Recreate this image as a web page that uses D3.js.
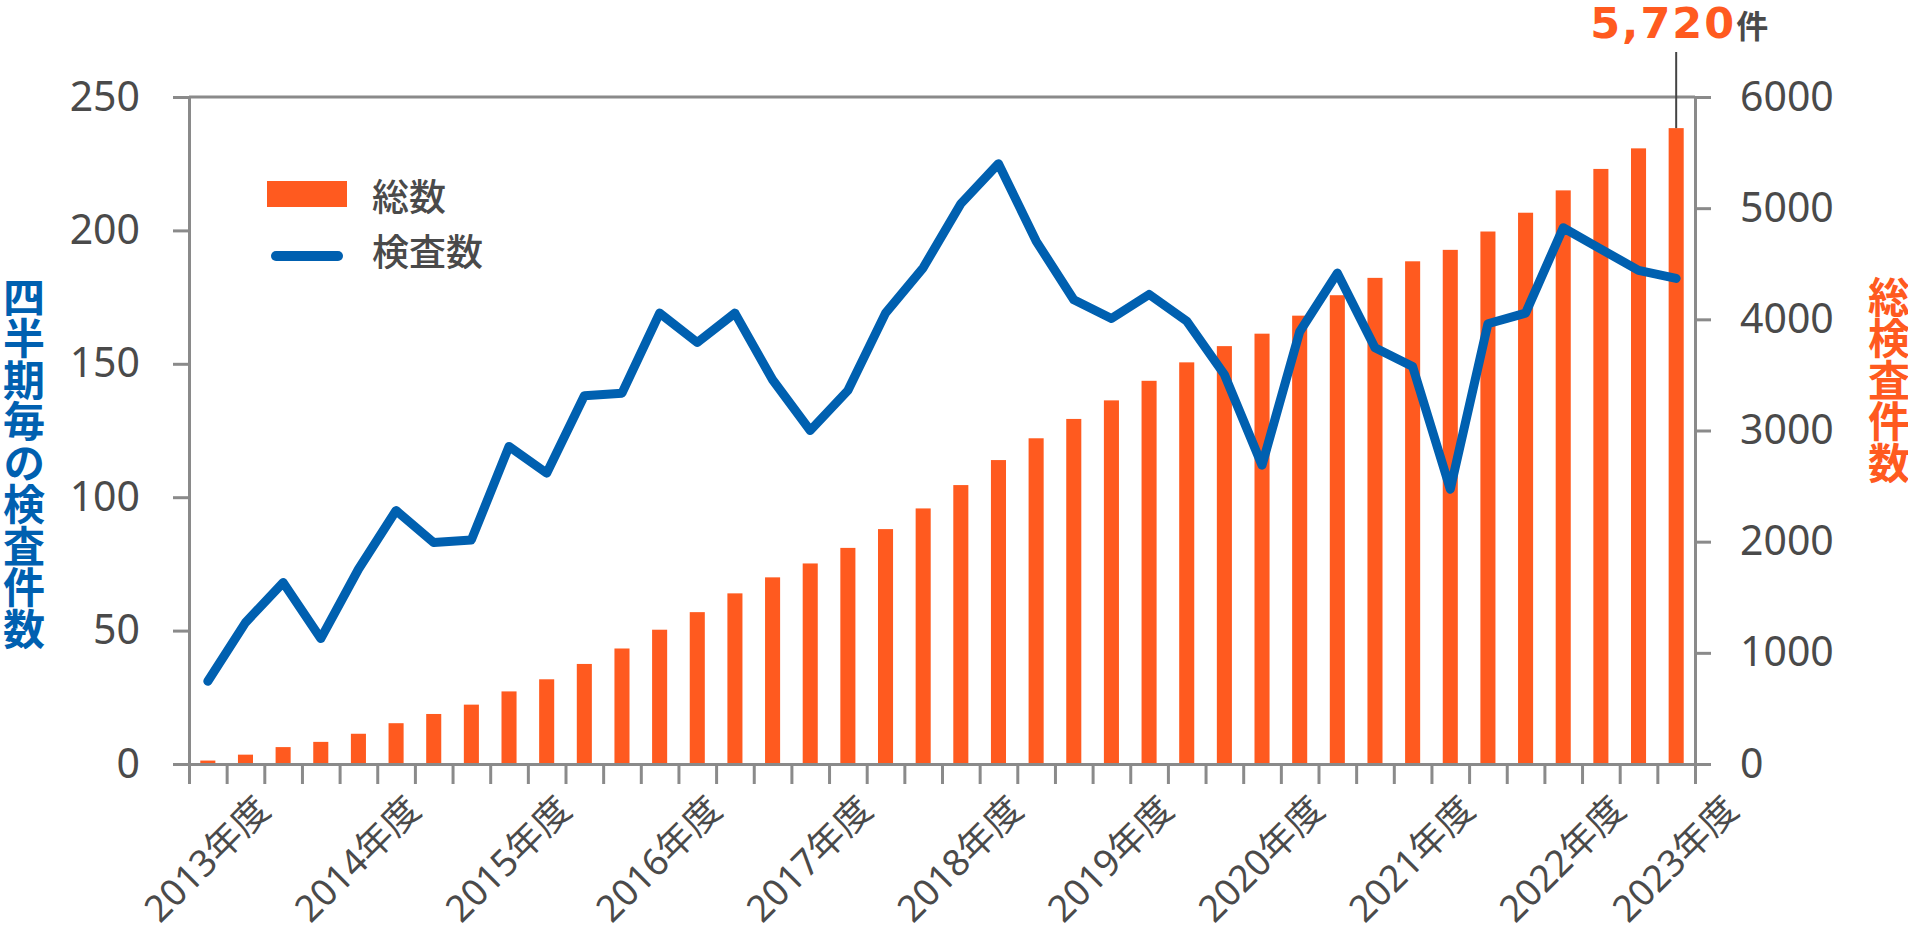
<!DOCTYPE html>
<html>
<head>
<meta charset="utf-8">
<script src="https://cdn.jsdelivr.net/npm/d3@7"></script>
<style>
html, body { margin: 0; padding: 0; background: #fff; }
svg { display: block; }
text { font-family: "Noto Sans", "Noto Sans CJK JP", sans-serif; }
</style>
</head>
<body>
<div id="main"></div>
<script>
// quarters (fiscal year / quarter), first bar = 2013 Q4
const quarters = [
  "2013Q4",
  "2014Q1", "2014Q2", "2014Q3", "2014Q4",
  "2015Q1", "2015Q2", "2015Q3", "2015Q4",
  "2016Q1", "2016Q2", "2016Q3", "2016Q4",
  "2017Q1", "2017Q2", "2017Q3", "2017Q4",
  "2018Q1", "2018Q2", "2018Q3", "2018Q4",
  "2019Q1", "2019Q2", "2019Q3", "2019Q4",
  "2020Q1", "2020Q2", "2020Q3", "2020Q4",
  "2021Q1", "2021Q2", "2021Q3", "2021Q4",
  "2022Q1", "2022Q2", "2022Q3", "2022Q4",
  "2023Q1", "2023Q2", "2023Q3"
];

// 総数 (cumulative, right axis)
const totalCount = [
  31, 84, 152, 199, 272, 367, 450, 534, 653, 762,
  900, 1039, 1208, 1366, 1535, 1679, 1804, 1944, 2113, 2299,
  2509, 2734, 2930, 3104, 3271, 3447, 3613, 3759, 3871, 4033,
  4217, 4373, 4522, 4625, 4790, 4959, 5160, 5353, 5538, 5720
];

// 検査数 (per quarter, left axis)
const quarterCount = [
  31, 53, 68, 47, 73, 95, 83, 84, 119, 109,
  138, 139, 169, 158, 169, 144, 125, 140, 169, 186,
  210, 225, 196, 174, 167, 176, 166, 146, 112, 162,
  184, 156, 149, 103, 165, 169, 201, 193, 185, 182
];

const yearLabels = [
  "2013年度", "2014年度", "2015年度", "2016年度", "2017年度", "2018年度",
  "2019年度", "2020年度", "2021年度", "2022年度", "2023年度"
];
const leftTicks = [0, 50, 100, 150, 200, 250];
const rightTicks = [0, 1000, 2000, 3000, 4000, 5000, 6000];

const leftTitle = "四半期毎の検査件数";
const rightTitle = "総検査件数";
const legendNames = ["総数", "検査数"];


const W = 1908, H = 932;
const pLeft = 189, pRight = 1695, pTop = 97, pBottom = 764;
const orange = "#ff5a1f", blue = "#0060b0", grey = "#8a8a8a", ink = "#4a4a4a";

const svg = d3.select("#main").append("svg")
  .attr("width", W)
  .attr("height", H);

const x = d3.scaleBand()
  .domain(quarters)
  .range([pLeft, pRight])
  .paddingInner(0)
  .paddingOuter(0);

// band boundaries for the ticks under the bars
const xb = d3.scaleLinear()
  .domain([0, quarters.length])
  .range([pLeft, pRight]);

const yL = d3.scaleLinear().domain([0, 250]).range([pBottom, pTop]);
const yR = d3.scaleLinear().domain([0, 6000]).range([pBottom, pTop]);

const cx = d => x(d) + x.bandwidth() / 2;


// bars
svg.append("g")
  .selectAll("rect")
  .data(quarters)
  .join("rect")
  .attr("x", d => x(d) + x.bandwidth() * 0.3)
  .attr("width", x.bandwidth() * 0.4)
  .attr("y", (d, i) => yR(totalCount[i]))
  .attr("height", (d, i) => pBottom - yR(totalCount[i]))
  .attr("fill", orange);

// line
svg.append("path")
  .datum(quarterCount)
  .attr("d", d3.line().x((d, i) => cx(quarters[i])).y(d => yL(d)))
  .attr("fill", "none")
  .attr("stroke", blue)
  .attr("stroke-width", 9)
  .attr("stroke-linejoin", "round")
  .attr("stroke-linecap", "round");


const styleAxis = g => {
  g.select(".domain").attr("stroke", grey).attr("stroke-width", 3);
  g.selectAll(".tick line").attr("stroke", grey).attr("stroke-width", 3);
  g.selectAll(".tick text").attr("fill", ink).attr("font-size", 41);
};

// top frame line
svg.append("line")
  .attr("x1", pLeft).attr("x2", pRight)
  .attr("y1", pTop).attr("y2", pTop)
  .attr("stroke", grey)
  .attr("stroke-width", 3);

svg.append("g")
  .attr("transform", `translate(${pLeft},0)`)
  .call(d3.axisLeft(yL).tickValues(leftTicks).tickSize(16).tickSizeOuter(0).tickPadding(33))
  .call(styleAxis);

svg.append("g")
  .attr("transform", `translate(${pRight},0)`)
  .call(d3.axisRight(yR).tickValues(rightTicks).tickFormat(d3.format("d"))
    .tickSize(16).tickSizeOuter(0).tickPadding(29))
  .call(styleAxis);

// year labels sit on every 4th boundary, the last one at the end
const labelAt = new Map(yearLabels.map((t, i) =>
  [i < yearLabels.length - 1 ? 1 + 4 * i : quarters.length, t]));

svg.append("g")
  .attr("transform", `translate(0,${pBottom})`)
  .call(d3.axisBottom(xb)
    .tickValues(d3.range(quarters.length + 1))
    .tickSize(20)
    .tickSizeOuter(0)
    .tickFormat(i => labelAt.get(i) || ""))
  .call(styleAxis)
  .call(g => g.selectAll(".tick text")
    .attr("y", null)
    .attr("dy", null)
    .attr("font-size", 37)
    .attr("text-anchor", "end")
    .attr("transform", "translate(45,48) rotate(-45)"));


// axis titles (vertical)
const vTitle = (str, xpos, color) => {
  svg.append("text")
    .attr("x", xpos)
    .attr("y", 276)
    .style("writing-mode", "vertical-rl")
    .attr("letter-spacing", -0.5)
    .attr("font-family", "Noto Sans CJK JP")
    .attr("font-size", 42)
    .attr("font-weight", 700)
    .attr("fill", color)
    .text(str);
};
vTitle(leftTitle, 22, blue);
vTitle(rightTitle, 1887, orange);


// legend
const lg = svg.append("g");
lg.append("rect")
  .attr("x", 267).attr("y", 181)
  .attr("width", 80).attr("height", 26)
  .attr("fill", orange);
lg.append("line")
  .attr("x1", 276).attr("x2", 338)
  .attr("y1", 256).attr("y2", 256)
  .attr("stroke", blue)
  .attr("stroke-width", 10)
  .attr("stroke-linecap", "round");
lg.selectAll("text")
  .data(legendNames)
  .join("text")
  .attr("x", 372)
  .attr("y", (d, i) => 196 + i * 55)
  .attr("dominant-baseline", "central")
  .attr("font-size", 37)
  .attr("font-weight", 500)
  .attr("fill", ink)
  .text(d => d);


// callout on the last bar
const last = quarters.length - 1;
const lx = cx(quarters[last]);

svg.append("line")
  .attr("x1", lx).attr("x2", lx)
  .attr("y1", 52).attr("y2", yR(totalCount[last]))
  .attr("stroke", "#444")
  .attr("stroke-width", 2);

const callout = svg.append("text")
  .attr("x", lx - 86)
  .attr("y", 38);
callout.append("tspan")
  .attr("font-family", "DejaVu Sans")
  .attr("font-weight", 700)
  .attr("font-size", 43)
  .attr("letter-spacing", 2)
  .attr("fill", orange)
  .text(d3.format(",")(totalCount[last]));
callout.append("tspan")
  .attr("font-size", 32)
  .attr("font-weight", 700)
  .attr("fill", ink)
  .attr("dx", 0)
  .text("件");
</script>
</body>
</html>
